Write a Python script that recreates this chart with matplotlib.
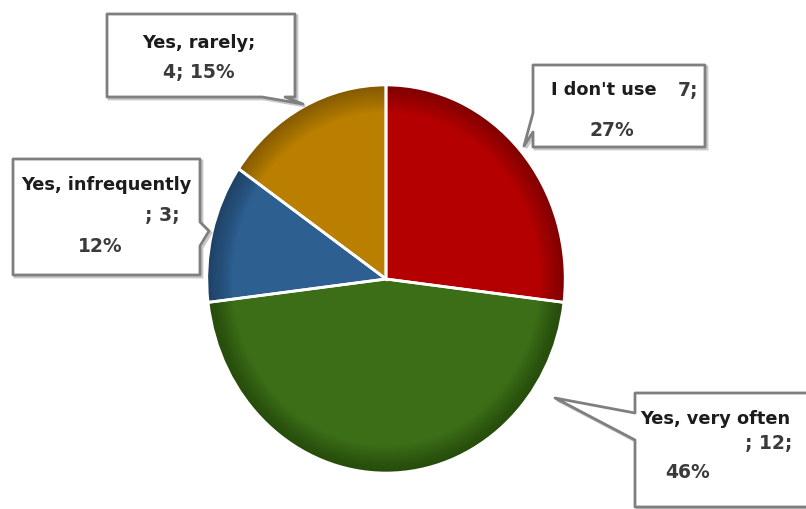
import matplotlib.pyplot as plt
from matplotlib.patches import Polygon

# survey answers, clockwise from 12 o'clock
labels = ["I don't use", "Yes, very often", "Yes, infrequently", "Yes, rarely"]
values = [7, 12, 3, 4]
colors = ["#b50000", "#3c6e17", "#2d5f90", "#bb7f00"]

total = sum(values)
pcts = [round(v * 100 / total) for v in values]

fig = plt.figure(figsize=(8.06, 5.09), dpi=100)
W, H = 806, 509

# pie axes: slightly taller than wide like the original
cx, cy, rx, ry = 386, 279, 181, 196
ax = fig.add_axes([(cx - rx) / W, (H - cy - ry) / H, 2 * rx / W, 2 * ry / H])
ax.pie(values, colors=colors, startangle=90, counterclock=False, radius=1,
       wedgeprops=dict(edgecolor="none"))
# darker rim, many faint rings so it looks like a soft gradient
for k in range(12):
    ax.pie(values, colors=["black"] * len(values), startangle=90, counterclock=False,
           radius=1, wedgeprops=dict(width=0.14 - k * 0.011, edgecolor="none",
                                     linewidth=0, alpha=0.022))
ax.pie(values, colors=["none"] * len(values), startangle=90, counterclock=False,
       radius=1, wedgeprops=dict(edgecolor="white", linewidth=2, fill=False))
ax.set_aspect("auto")
ax.set_xlim(-1.01, 1.01)
ax.set_ylim(-1.01, 1.01)
ax.axis("off")

# overlay in pixel coords for the callouts
ov = fig.add_axes([0, 0, 1, 1])
ov.set_xlim(0, W)
ov.set_ylim(H, 0)
ov.axis("off")


def callout(x0, y0, x1, y1, side, b0, b1, tip):
    # box outline going clockwise (screen coords), pointer inserted on one side
    tl, tr, br, bl = (x0, y0), (x1, y0), (x1, y1), (x0, y1)
    if side == "bottom":
        pts = [tl, tr, br, (b1, y1), tip, (b0, y1), bl]
    elif side == "left":
        pts = [tl, tr, br, bl, (x0, b1), tip, (x0, b0)]
    elif side == "right":
        pts = [tl, tr, (x1, b0), tip, (x1, b1), br, bl]
    # soft shadow
    sh = [(px + 2, py + 2) for px, py in pts]
    ov.add_patch(Polygon(sh, closed=True, fc="none", ec="#c8c8c8", lw=2, zorder=2))
    ov.add_patch(Polygon(pts, closed=True, fc="white", ec="#7f7f7f", lw=2,
                         joinstyle="round", zorder=3))


txt = dict(fontfamily="DejaVu Sans", fontweight="bold", zorder=4)
dark = "#1c1c1c"
grey = "#3a3a3a"
fs = 12.8
fs2 = 13.5

# Yes, rarely
callout(107, 14, 295, 97, "bottom", 262, 285, (303, 104))
ov.text(199, 43, f"{labels[3]};", ha="center", va="center", fontsize=fs, color=dark, **txt)
ov.text(199, 72, f"{values[3]}; {pcts[3]}%", ha="center", va="center", fontsize=fs2, color=grey, **txt)

# I don't use
callout(533, 65, 705, 147, "left", 113, 132, (524, 146))
ov.text(551, 90, labels[0], ha="left", va="center", fontsize=fs, color=dark, **txt)
ov.text(678, 90, f"{values[0]};", ha="left", va="center", fontsize=fs2, color=grey, **txt)
ov.text(612, 131, f"{pcts[0]}%", ha="center", va="center", fontsize=fs2, color=grey, **txt)

# Yes, infrequently
callout(13, 159, 200, 275, "right", 222, 246, (209, 231))
ov.text(21, 185, labels[2], ha="left", va="center", fontsize=fs, color=dark, **txt)
ov.text(180, 216, f"; {values[2]};", ha="right", va="center", fontsize=fs2, color=grey, **txt)
ov.text(100, 246, f"{pcts[2]}%", ha="center", va="center", fontsize=fs2, color=grey, **txt)

# Yes, very often
callout(635, 393, 815, 507, "left", 413, 440, (555, 398))
ov.text(640, 419, labels[1], ha="left", va="center", fontsize=fs, color=dark, **txt)
ov.text(792, 444, f"; {values[1]};", ha="right", va="center", fontsize=fs2, color=grey, **txt)
ov.text(688, 473, f"{pcts[1]}%", ha="center", va="center", fontsize=fs2, color=grey, **txt)

fig.savefig("out.png", dpi=100)
